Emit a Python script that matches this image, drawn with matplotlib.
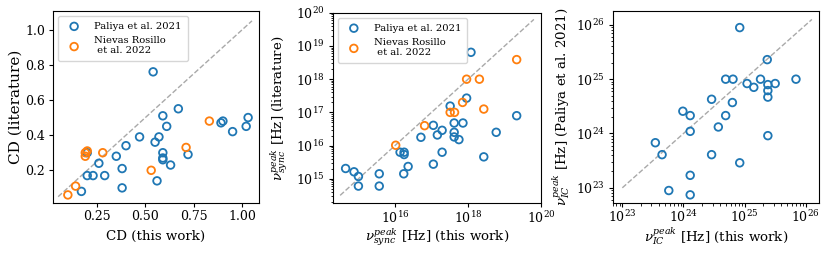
import matplotlib
matplotlib.use("Agg")
import matplotlib.pyplot as plt
import numpy as np

plt.rcParams["font.family"] = "DejaVu Serif"
plt.rcParams["mathtext.fontset"] = "dejavuserif"
plt.rcParams["font.size"] = 9.6
plt.rcParams["axes.labelsize"] = 9.6
for a in ("xtick", "ytick"):
    plt.rcParams[a + ".labelsize"] = 9.0
    plt.rcParams[a + ".major.size"] = 3.2
    plt.rcParams[a + ".minor.size"] = 1.8
    plt.rcParams[a + ".major.pad"] = 2.6
    plt.rcParams[a + ".minor.pad"] = 2.6
plt.rcParams["xtick.major.pad"] = 2.0
plt.rcParams["xtick.minor.pad"] = 2.0

# Compton dominance: Paliya et al. 2021
cd_pal_x = [0.54, 0.67, 0.59, 0.61, 0.89, 0.90, 0.95, 1.02, 1.03, 0.47, 0.57, 0.55,
            0.40, 0.35, 0.59, 0.59, 0.59, 0.72, 0.63, 0.26, 0.38, 0.20, 0.23, 0.29,
            0.20, 0.17, 0.38, 0.56]
cd_pal_y = [0.76, 0.55, 0.51, 0.45, 0.47, 0.48, 0.42, 0.45, 0.50, 0.39, 0.39, 0.36,
            0.34, 0.28, 0.30, 0.27, 0.26, 0.29, 0.23, 0.24, 0.21, 0.17, 0.17, 0.17,
            0.30, 0.08, 0.10, 0.14]
# Compton dominance: Nievas Rosillo et al. 2022
cd_nie_x = [0.83, 0.71, 0.28, 0.20, 0.19, 0.19, 0.53, 0.14, 0.10]
cd_nie_y = [0.48, 0.33, 0.30, 0.31, 0.30, 0.28, 0.20, 0.11, 0.06]

# log10 synchrotron peak frequency
sync_pal_x = [18.08, 17.96, 17.51, 19.33, 17.62, 17.86, 17.05, 17.29, 17.16, 17.62,
              17.62, 17.75, 18.77, 16.71, 16.14, 16.25, 16.25, 17.29, 18.43, 17.05,
              16.36, 16.24, 15.57, 15.57, 14.65, 14.88, 15.00, 15.00]
sync_pal_y = [18.81, 17.43, 17.19, 16.90, 16.68, 16.68, 16.61, 16.46, 16.32, 16.40,
              16.26, 16.18, 16.40, 16.25, 15.80, 15.80, 15.73, 15.80, 15.66, 15.44,
              15.37, 15.15, 15.15, 14.78, 15.31, 15.21, 15.07, 14.78]
sync_nie_x = [19.33, 17.96, 18.31, 17.85, 18.43, 17.51, 17.63, 16.81, 16.02]
sync_nie_y = [18.59, 18.00, 18.00, 17.30, 17.10, 17.00, 17.00, 16.60, 16.01]

# log10 inverse Compton peak frequency (Paliya et al. 2021 only)
ic_x = [24.92, 25.37, 24.69, 24.81, 25.04, 25.15, 25.26, 25.38, 25.50, 25.38, 25.38,
        25.84, 24.46, 24.80, 23.99, 24.11, 24.69, 24.57, 24.11, 25.38, 23.54, 23.65,
        24.46, 24.92, 24.11, 23.76, 24.11]
ic_y = [25.95, 25.36, 25.00, 25.00, 24.92, 24.85, 25.00, 24.90, 24.92, 24.79, 24.67,
        25.00, 24.63, 24.57, 24.41, 24.33, 24.33, 24.12, 24.04, 23.96, 23.83, 23.61,
        23.61, 23.46, 23.23, 22.95, 22.87]

fig = plt.figure(figsize=(8.3, 2.56), dpi=100)
ax1 = fig.add_axes([0.064, 0.207, 0.248, 0.75])
ax2 = fig.add_axes([0.401, 0.207, 0.251, 0.743])
ax3 = fig.add_axes([0.738, 0.207, 0.249, 0.751])

mk = dict(s=30, facecolors="none", linewidths=1.3)
dash = dict(ls="--", color="darkgray", lw=1, zorder=0)
leg = dict(loc="upper left", fontsize=7.2, borderpad=0.6, handletextpad=1.0)

ax1.plot([0.05, 1.05], [0.05, 1.05], **dash)
ax1.scatter(cd_pal_x, cd_pal_y, edgecolors="C0", label="Paliya et al. 2021", **mk)
ax1.scatter(cd_nie_x, cd_nie_y, edgecolors="C1", label="Nievas Rosillo\n et al. 2022", **mk)
ax1.set_xlim(0.024, 1.086)
ax1.set_ylim(0.014, 1.106)
ax1.set_xticks([0.25, 0.5, 0.75, 1.0])
ax1.set_yticks([0.2, 0.4, 0.6, 0.8, 1.0])
ax1.set_xlabel("CD (this work)", va="baseline")
ax1.set_ylabel("CD (literature)", fontsize=11)
ax1.legend(**leg)

ax2.plot([10**14.5, 10**19.8], [10**14.5, 10**19.8], **dash)
ax2.scatter(10 ** np.array(sync_pal_x), 10 ** np.array(sync_pal_y), edgecolors="C0",
            label="Paliya et al. 2021", **mk)
ax2.scatter(10 ** np.array(sync_nie_x), 10 ** np.array(sync_nie_y), edgecolors="C1",
            label="Nievas Rosillo\n et al. 2022", **mk)
ax2.set_xscale("log")
ax2.set_yscale("log")
ax2.set_xlim(10**14.3, 1e20)
ax2.set_ylim(10**14.27, 1e20)
ax2.set_xticks([1e16, 1e18, 1e20])
ax2.set_xlabel(r"$\nu_{sync}^{peak}$ [Hz] (this work)", va="baseline")
ax2.set_ylabel(r"$\nu_{sync}^{peak}$ [Hz] (literature)")
ax2.legend(**leg)

ax3.plot([1e23, 10**26.1], [1e23, 10**26.1], **dash)
ax3.scatter(10 ** np.array(ic_x), 10 ** np.array(ic_y), edgecolors="C0", **mk)
ax3.set_xscale("log")
ax3.set_yscale("log")
ax3.set_xlim(10**22.84, 10**26.22)
ax3.set_ylim(10**22.72, 10**26.26)
ax3.tick_params(axis="x", which="both", pad=1.5)
ax3.set_xlabel(r"$\nu_{IC}^{peak}$ [Hz] (this work)", va="baseline")
ax3.set_ylabel(r"$\nu_{IC}^{peak}$ [Hz] (Paliya et al. 2021)")

# label placement
for ax, xly, ylx in ((ax1, -0.19, -0.146), (ax2, -0.195, -0.207), (ax3, -0.2, -0.194)):
    ax.xaxis.set_label_coords(0.5, xly)
    ax.yaxis.set_label_coords(ylx, 0.5)

fig.savefig("out.png", dpi=100)
